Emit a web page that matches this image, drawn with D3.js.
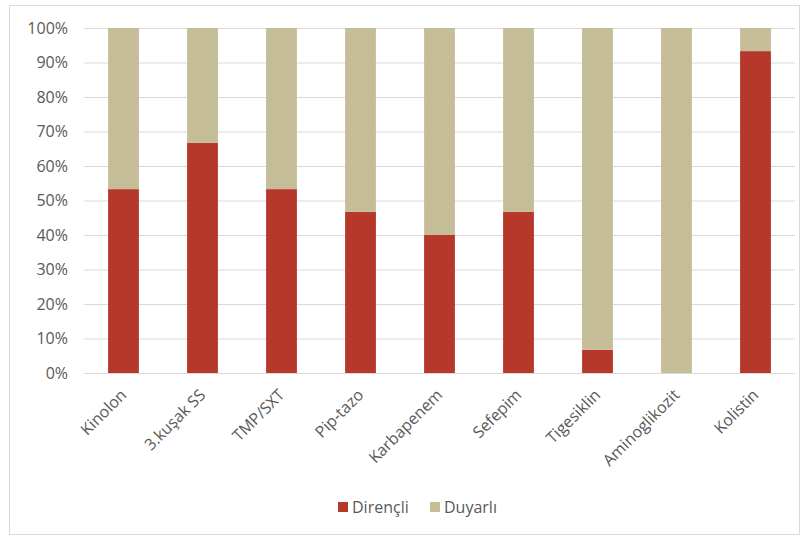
<!DOCTYPE html>
<html><head><meta charset="utf-8">
<script src="https://cdn.jsdelivr.net/npm/d3@7"></script>
<style>body{margin:0;background:#fff;} text{font-family:"Open Sans","Liberation Sans",sans-serif;}</style>
</head><body><svg id="c" width="806" height="539"></svg>
<script>
const categories = ["Kinolon","3.kuşak SS","TMP/SXT","Pip-tazo","Karbapenem","Sefepim","Tigesiklin","Aminoglikozit","Kolistin"];
const direncli = [53.3,66.7,53.3,46.7,40.0,46.7,6.7,0,93.3];
const duyarli = [46.7,33.3,46.7,53.3,60.0,53.3,93.3,100,6.7];
const seriesNames = ["Dirençli","Duyarlı"];
const colors = ["#B5382A","#C4BD97"];
const yTicks = [0,10,20,30,40,50,60,70,80,90,100];

const svg = d3.select("#c");
svg.append("rect").attr("x",9.5).attr("y",5.5).attr("width",790).attr("height",529).attr("fill","#fff").attr("stroke","#D9D9D9");
const m = {l:84, r:795, t:28, b:373};
const x = d3.scaleBand().domain(categories).range([m.l,m.r]).paddingInner(0.61).paddingOuter(0.305);
const y = d3.scaleLinear().domain([0,100]).range([m.b,m.t]);

svg.append("g").selectAll("line").data(yTicks).join("line")
  .attr("x1",m.l).attr("x2",m.r).attr("y1",d=>y(d)+0.5).attr("y2",d=>y(d)+0.5)
  .attr("stroke","#D9D9D9").attr("stroke-width",1);
svg.append("g").selectAll("text").data(yTicks).join("text")
  .attr("x",68).attr("y",d=>y(d)).attr("dy","0.35em").attr("text-anchor","end")
  .attr("font-size",16).attr("fill","#595959").text(d=>d+"%");

const rows = categories.map((c,i)=>({cat:c, "Dirençli":direncli[i], "Duyarlı":duyarli[i]}));
const stack = d3.stack().keys(seriesNames)(rows);
svg.append("g").selectAll("g").data(stack).join("g").attr("fill",(d,i)=>colors[i])
  .selectAll("rect").data(d=>d).join("rect")
  .attr("x",d=>x(d.data.cat)).attr("width",x.bandwidth())
  .attr("y",d=>y(d[1])).attr("height",d=>y(d[0])-y(d[1]));

svg.append("g").selectAll("text").data(categories).join("text")
  .attr("transform",d=>`translate(${x(d)+x.bandwidth()/2+4},${m.b+23}) rotate(-45)`)
  .attr("text-anchor","end").attr("font-size",16).attr("fill","#595959").text(d=>d);

const lg = svg.append("g");
const lx = [338,430];
seriesNames.forEach((s,i)=>{
  lg.append("rect").attr("x",lx[i]).attr("y",502).attr("width",10).attr("height",10).attr("fill",colors[i]);
  lg.append("text").attr("x",lx[i]+14).attr("y",507).attr("dy","0.35em").attr("font-size",16).attr("fill","#595959").text(s);
});
</script></body></html>
